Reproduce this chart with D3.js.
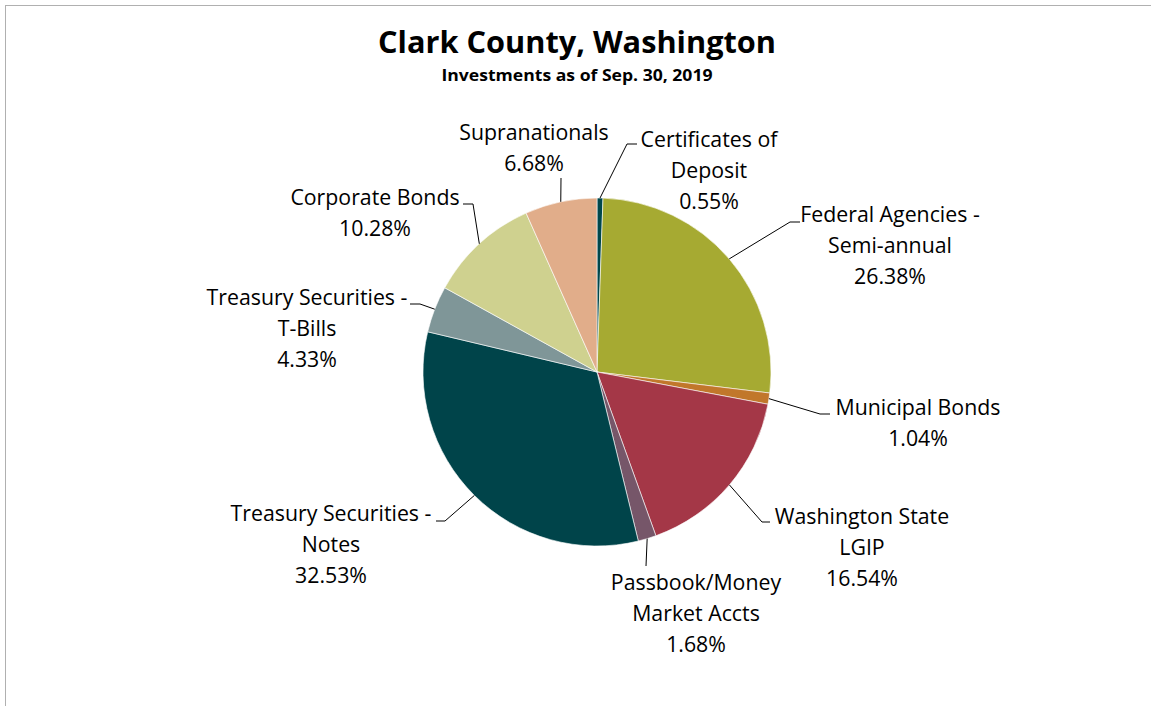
<!DOCTYPE html>
<html><head><meta charset="utf-8">
<script src="https://cdn.jsdelivr.net/npm/d3@7/dist/d3.min.js"></script>
<style>html,body{margin:0;padding:0;background:#fff;overflow:hidden}</style>
</head><body>
<svg id="chart" width="1151" height="706"></svg>
<script>
// Data
const categories = ["Certificates of Deposit","Federal Agencies - Semi-annual","Municipal Bonds","Washington State LGIP","Passbook/Money Market Accts","Treasury Securities - Notes","Treasury Securities - T-Bills","Corporate Bonds","Supranationals"];
const labelLines = [["Certificates of","Deposit"],["Federal Agencies -","Semi-annual"],["Municipal Bonds"],["Washington State","LGIP"],["Passbook/Money","Market Accts"],["Treasury Securities -","Notes"],["Treasury Securities -","T-Bills"],["Corporate Bonds"],["Supranationals"]];
const values = [0.55, 26.38, 1.04, 16.54, 1.68, 32.53, 4.33, 10.28, 6.68];
const colors = ["#01474b","#a6aa32","#c1772b","#a43747","#765669","#00444a","#7f9698","#cfd18f","#e1ad8a"];
const title = "Clark County, Washington";
const subtitle = "Investments as of Sep. 30, 2019";

// Layout (label placement, leader elbows)
const cx = 597, cy = 372, R = 174;
const labelPos = [[709,140],[890,215],[918,408],[862,517],[696,583],[331,514],[307,298],[375,198],[534,133]];
const leader = [
  [[627,144],[637,144]],
  [[790,222],[800,222]],
  [[820,414],[830,414]],
  [[762,522],[770,522]],
  [[646,566]],
  [[445,521],[436,521]],
  [[420,304],[410,304]],
  [[473,204],[463,204]],
  [[561,178]]
];
const lineH = 30.7;
const font = "'Open Sans', Lato, sans-serif";

const svg = d3.select("#chart");
svg.append("rect").attr("x",5.5).attr("y",5.5).attr("width",1200).attr("height",800)
  .attr("fill","none").attr("stroke","#b0b0b0").attr("stroke-width",1);

svg.append("text").attr("x",577).attr("y",53).attr("text-anchor","middle")
  .attr("font-family",font).attr("font-weight","bold").attr("font-size",30)
  .attr("textLength",398).attr("lengthAdjust","spacingAndGlyphs").attr("fill","#000").text(title);
svg.append("text").attr("x",577).attr("y",81).attr("text-anchor","middle")
  .attr("font-family",font).attr("font-weight","bold").attr("font-size",15.5)
  .attr("textLength",271).attr("lengthAdjust","spacingAndGlyphs").attr("fill","#000").text(subtitle);

const pie = d3.pie().sort(null).value(d=>d)(values);
const arc = d3.arc().innerRadius(0).outerRadius(R);
const g = svg.append("g").attr("transform",`translate(${cx},${cy})`);
g.selectAll("path").data(pie).join("path")
  .attr("d",arc).attr("fill",(d,i)=>colors[i]).attr("stroke","#fff").attr("stroke-width",0.6);

// leaders
const lineGen = d3.line();
pie.forEach((d,i)=>{
  const a = (d.startAngle+d.endAngle)/2;
  const p0 = [cx + R*Math.sin(a), cy - R*Math.cos(a)];
  svg.append("path").attr("d", lineGen([p0, ...leader[i]]))
    .attr("fill","none").attr("stroke","#000").attr("stroke-width",1);
});

// labels
pie.forEach((d,i)=>{
  const lines = [...labelLines[i], d3.format(".2f")(values[i])+"%"];
  const t = svg.append("text").attr("text-anchor","middle").attr("font-family",font)
    .attr("font-size",21.3).attr("fill","#000");
  lines.forEach((s,k)=>{
    t.append("tspan").attr("x",labelPos[i][0]).attr("y",labelPos[i][1]+k*lineH)
      .attr("dy","0.35em").text(s);
  });
});
</script>
</body></html>
